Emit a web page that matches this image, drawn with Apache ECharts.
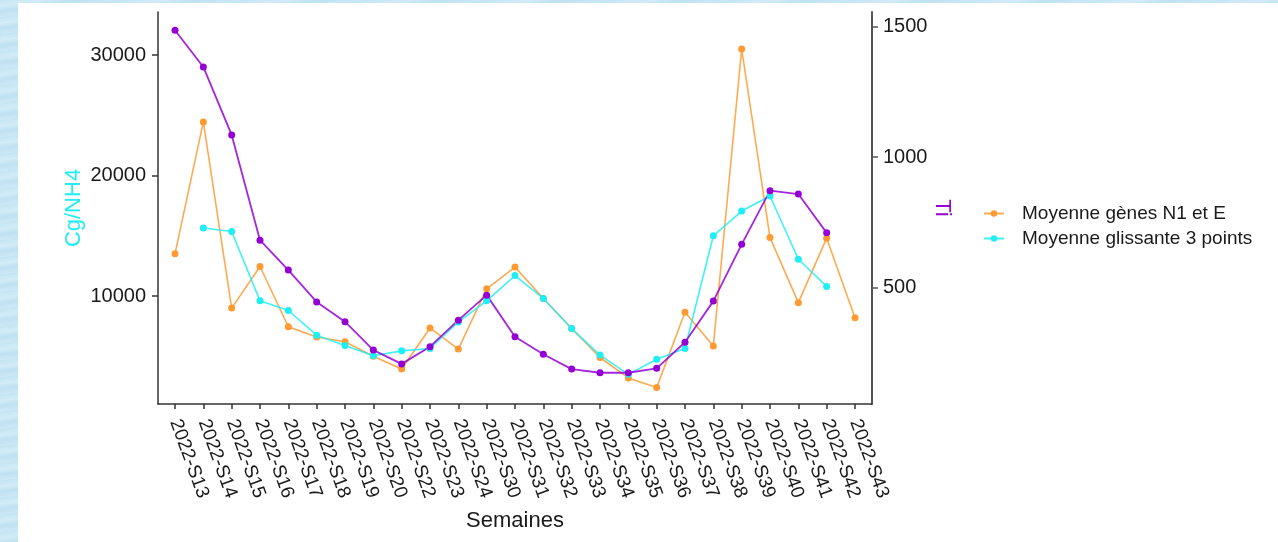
<!DOCTYPE html>
<html>
<head>
<meta charset="utf-8">
<script src="https://cdn.jsdelivr.net/npm/echarts@6/dist/echarts.min.js"></script>
<style>
  html, body { margin: 0; padding: 0; }
  body {
    width: 1278px; height: 542px; overflow: hidden; position: relative;
    background: repeating-linear-gradient(172deg, #c4e4f3 0px, #d2ecf7 6px, #bfe1f2 11px, #cde8f5 17px);
  }
  #panel { position: absolute; left: 18px; top: 3px; right: 0; bottom: 0; background: #fff; }
  #chart { position: absolute; left: 0; top: 0; width: 1278px; height: 542px; }
</style>
</head>
<body>
<div id="panel"></div>
<div id="chart"></div>
<script>
// semaines
const semaines = ["2022-S13", "2022-S14", "2022-S15", "2022-S16", "2022-S17", "2022-S18", "2022-S19",
  "2022-S20", "2022-S22", "2022-S23", "2022-S24", "2022-S30", "2022-S31", "2022-S32", "2022-S33",
  "2022-S34", "2022-S35", "2022-S36", "2022-S37", "2022-S38", "2022-S39", "2022-S40", "2022-S41",
  "2022-S42", "2022-S43"];
// Cg/NH4 (axe gauche)
const moyenneN1E = [13500, 24450, 9000, 12450, 7450, 6600, 6200, 5000, 3950, 7350, 5600, 10600,
  12400, 9800, 7300, 4900, 3200, 2400, 8650, 5850, 30500, 14850, 9450, 14800, 8200];
const glissante3 = [null, 15650, 15350, 9600, 8800, 6750, 5900, 5050, 5450, 5650, 7850, 9600,
  11700, 9800, 7300, 5100, 3500, 4750, 5650, 15000, 17050, 18300, 13050, 10800, null];
// Ti (axe droit)
const ti = [1487, 1346, 1085, 681, 566, 444, 368, 259, 206, 272, 374, 470, 310, 243, 186, 172,
  172, 189, 289, 447, 665, 871, 858, 709, null];
const ticksGauche = [10000, 20000, 30000];
const ticksDroite = [500, 1000, 1500];

const idx = semaines.map((s, i) => i);
const pairs = arr => arr.map((v, i) => [i, v == null ? '-' : v]);

const font = "Liberation Sans, Arial, sans-serif";
const orange = "#ff9a33";
const cyan = "#1feef5";
const violet = "#9400d3";

const chart = echarts.init(document.getElementById("chart"));
chart.setOption({
  animation: false,
  textStyle: { fontFamily: font },
  grid: { left: 158, top: 12, width: 714, height: 392 },
  legend: {
    orient: "vertical",
    left: 983,
    top: 204,
    padding: 0,
    itemWidth: 20,
    itemHeight: 8,
    itemGap: 6,
    data: ["Moyenne gènes N1 et E", "Moyenne glissante 3 points"],
    textStyle: { fontSize: 19, color: "#1a1a1a", fontFamily: font, padding: [0, 0, 0, 13] },
  },
  xAxis: {
    type: "value",
    min: -0.6,
    max: 24.6,
    name: "Semaines",
    nameLocation: "middle",
    nameGap: 106,
    nameMoveOverlap: false,
    nameTextStyle: { fontSize: 22, color: "#1a1a1a" },
    splitLine: { show: false },
    axisLine: { onZero: false, lineStyle: { color: "#333", width: 1.5 } },
    axisTick: { customValues: idx, length: 5, lineStyle: { color: "#333", width: 1.5 } },
    axisLabel: {
      customValues: idx,
      formatter: v => semaines[v],
      rotate: -70,
      margin: 16,
      padding: [28, 0, 0, 0],
      fontSize: 19,
      color: "#1a1a1a",
    },
  },
  yAxis: [
    {
      type: "value",
      min: 1040,
      max: 33570,
      name: "Cg/NH4",
      nameLocation: "middle",
      nameGap: 73,
      nameMoveOverlap: false,
      nameTextStyle: { fontSize: 22, color: cyan },
      splitLine: { show: false },
      axisLine: { show: true, onZero: false, lineStyle: { color: "#333", width: 1.5 } },
      axisTick: { show: true, customValues: ticksGauche, length: 6, lineStyle: { color: "#333", width: 1.5 } },
      axisLabel: { customValues: ticksGauche, formatter: v => String(v), margin: 12, fontSize: 20, color: "#1a1a1a" },
    },
    {
      type: "value",
      min: 52,
      max: 1557,
      position: "right",
      name: "Ti",
      nameLocation: "middle",
      nameRotate: -90,
      nameGap: 59,
      nameMoveOverlap: false,
      nameTextStyle: { fontSize: 22, color: violet },
      splitLine: { show: false },
      axisLine: { show: true, onZero: false, lineStyle: { color: "#555", width: 2 } },
      axisTick: { show: true, customValues: ticksDroite, length: 6, lineStyle: { color: "#555", width: 1.5 } },
      axisLabel: { customValues: ticksDroite, formatter: v => String(v), margin: 11, fontSize: 20, color: "#1a1a1a" },
    },
  ],
  series: [
    {
      name: "Moyenne gènes N1 et E",
      type: "line",
      yAxisIndex: 0,
      data: pairs(moyenneN1E),
      symbol: "circle",
      symbolSize: 7,
      itemStyle: { color: orange },
      lineStyle: { color: orange, width: 1.6, opacity: 0.85 },
    },
    {
      name: "Moyenne glissante 3 points",
      type: "line",
      yAxisIndex: 0,
      data: pairs(glissante3),
      symbol: "circle",
      symbolSize: 7,
      itemStyle: { color: cyan },
      lineStyle: { color: cyan, width: 1.6, opacity: 0.85 },
    },
    {
      name: "Ti",
      type: "line",
      yAxisIndex: 1,
      data: pairs(ti),
      symbol: "circle",
      symbolSize: 7,
      itemStyle: { color: violet },
      lineStyle: { color: violet, width: 1.8, opacity: 0.85 },
    },
  ],
});
</script>
</body>
</html>
